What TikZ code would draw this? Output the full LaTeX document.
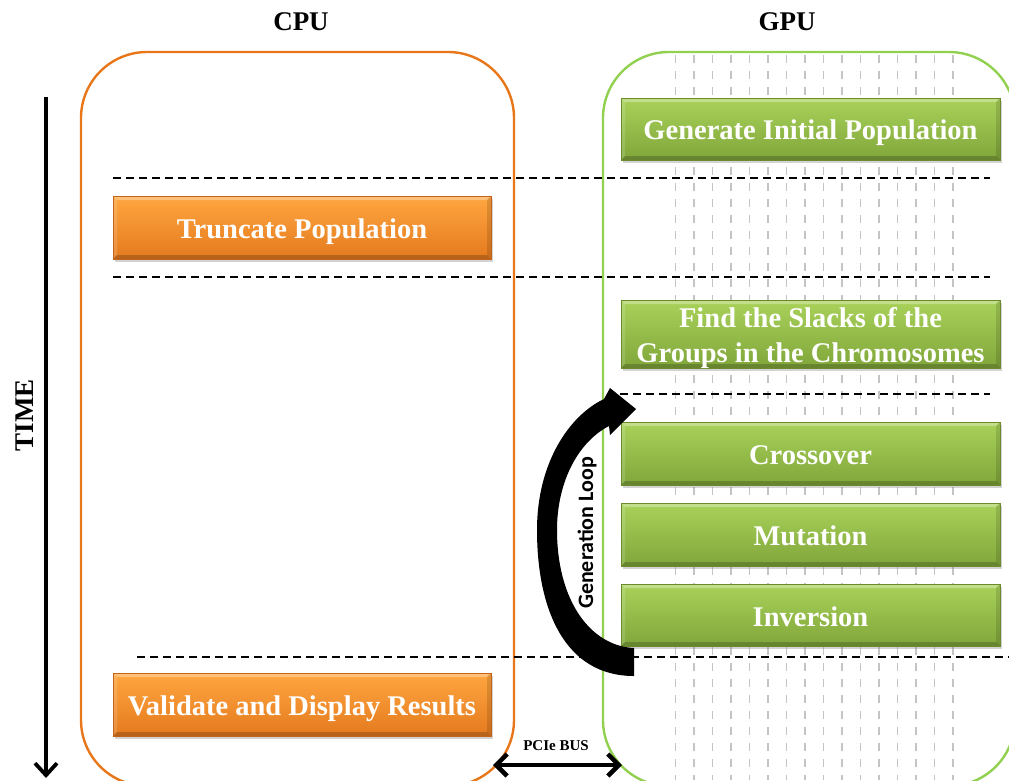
\documentclass[tikz,border=0pt]{standalone}
\usepackage{fontspec}
\setmainfont{Liberation Serif}
\newfontfamily\loopfont{Carlito}
\usetikzlibrary{arrows.meta,shadows}
\definecolor{gtop}{HTML}{A9D25A}
\definecolor{gbot}{HTML}{80A63A}
\definecolor{gline}{HTML}{6A8A2B}
\definecolor{otop}{HTML}{FFA640}
\definecolor{obot}{HTML}{E47A1E}
\definecolor{oline}{HTML}{C2641A}
\definecolor{cpuedge}{HTML}{E8771A}
\definecolor{gpuedge}{HTML}{92D050}
\definecolor{lanegray}{HTML}{C4C4C4}
\newcommand\bxt[2]{\raisebox{#1}[0pt][0pt]{#2}}
\begin{document}
\begin{tikzpicture}[x=1pt,y=-1pt,
  boxbase/.style={rectangle, inner sep=0pt, text=white,
    font=\fontsize{28.5}{35}\selectfont\bfseries, line width=0.8pt,
    drop shadow={shadow xshift=2pt, shadow yshift=-2.5pt, opacity=0.35},
    path picture={
      \fill[white,opacity=0.30] (path picture bounding box.north west) -- (path picture bounding box.north east)
        -- ([xshift=-4pt,yshift=-4pt]path picture bounding box.north east) -- ([xshift=4pt,yshift=-4pt]path picture bounding box.north west) -- cycle;
      \fill[white,opacity=0.15] (path picture bounding box.north west) -- (path picture bounding box.south west)
        -- ([xshift=4pt,yshift=4pt]path picture bounding box.south west) -- ([xshift=4pt,yshift=-4pt]path picture bounding box.north west) -- cycle;
      \fill[black,opacity=0.20] (path picture bounding box.south west) -- (path picture bounding box.south east)
        -- ([xshift=-4pt,yshift=4pt]path picture bounding box.south east) -- ([xshift=4pt,yshift=4pt]path picture bounding box.south west) -- cycle;
      \fill[black,opacity=0.12] (path picture bounding box.north east) -- (path picture bounding box.south east)
        -- ([xshift=-4pt,yshift=4pt]path picture bounding box.south east) -- ([xshift=-4pt,yshift=-4pt]path picture bounding box.north east) -- cycle;
    }},
  gbox/.style={boxbase, minimum width=379pt, top color=gtop, bottom color=gbot, draw=gline},
  obox/.style={boxbase, minimum width=378pt, top color=otop, bottom color=obot, draw=oline},
  sepline/.style={black, line width=1.8pt, dash pattern=on 8pt off 5pt},
  laneline/.style={lanegray, line width=1.6pt, dash pattern=on 8pt off 8pt},
  title/.style={font=\fontsize{27}{30}\selectfont\bfseries},
]
\path[use as bounding box] (0,0) rectangle (1009,780);
\clip (0,0) rectangle (1009,780);

% titles
\node[title] (cputitle) at (301,22) {CPU};
\node[title] (gputitle) at (787,22) {GPU};

% containers
\draw[cpuedge, line width=2.4pt, rounded corners=66pt] (81,52) rectangle (514,786);
\draw[gpuedge, line width=2.4pt, rounded corners=66pt] (603,52) rectangle (1015,786);

% GPU lanes
\foreach \i in {0,...,15}
  \draw[laneline] (675.5+18.5*\i,55) -- (675.5+18.5*\i,780);

% separators
\draw[sepline] (113,178) -- (990,178);
\draw[sepline] (113,277) -- (990,277);
\draw[sepline] (620,394) -- (990,394);
\draw[sepline] (137,657) -- (1009,657);

% time arrow
\coordinate (ttop) at (46,97);
\coordinate (tbot) at (46,778);
\draw[line width=3.8pt, -{Straight Barb[length=12pt,width=22pt,line width=3.8pt]}] (ttop) -- (tbot);
\node[font=\fontsize{27}{30}\selectfont\bfseries, rotate=90] (time) at (25,415) {TIME};

% GPU steps
\node[gbox, minimum height=62pt] (gen) at (810.5,129) {\bxt{-10pt}{Generate Initial Population}};
\node[gbox, minimum height=68pt] (slack) at (810.5,334) {\bxt{-28pt}{\begin{tabular}[b]{@{}c@{}}Find the Slacks of the\\Groups in the Chromosomes\end{tabular}}};
\node[gbox, minimum height=63pt] (cross) at (810.5,453.5) {\bxt{-11pt}{Crossover}};
\node[gbox, minimum height=63pt] (mut) at (810.5,534.5) {\bxt{-11pt}{Mutation}};
\node[gbox, minimum height=62pt] (inv) at (810.5,615) {\bxt{-11pt}{Inversion}};

% CPU steps
\node[obox, minimum height=63pt] (trunc) at (302,227.5) {\bxt{-11pt}{Truncate Population}};
\node[obox, minimum height=63pt] (valid) at (302,704.5) {\bxt{-11pt}{Validate and Display Results}};

% generation loop arrow
\fill[black] (634,676) .. controls (565,676) and (537,610) .. (537,530)
  .. controls (537,462) and (570,415) .. (604,399)
  -- (610,388) -- (636,409) -- (610,435) -- (609,426)
  .. controls (578,442) and (557,482) .. (557,530)
  .. controls (557,600) and (590,646) .. (634,648) -- cycle;
\node[font=\loopfont\fontsize{22}{24}\selectfont\bfseries, rotate=90] (loop) at (587,533) {Generation Loop};

% PCIe bus
\coordinate (busl) at (493,765);
\coordinate (busr) at (622,765);
\draw[line width=4.5pt, {Straight Barb[length=11pt,width=22pt,line width=4.5pt]}-{Straight Barb[length=11pt,width=22pt,line width=4.5pt]}] (busl) -- (busr);
\node[font=\fontsize{15}{17}\selectfont\bfseries] (bus) at (556,746) {PCIe BUS};
\end{tikzpicture}
\end{document}
